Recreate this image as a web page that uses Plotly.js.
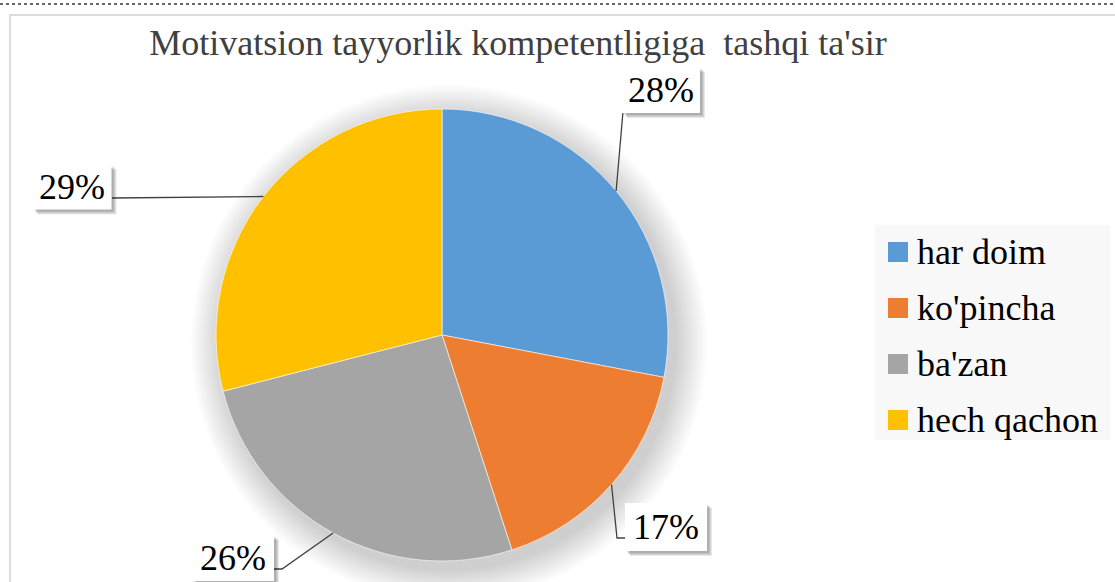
<!DOCTYPE html>
<html><head><meta charset="utf-8">
<script src="https://cdn.plot.ly/plotly-3.0.1.min.js"></script>
<style>html,body{margin:0;padding:0;background:#fff;} #chart{width:1115px;height:582px;}</style>
</head><body><div id="chart"></div>
<script>
// ---- data ----
const categories = ["har doim", "ko'pincha", "ba'zan", "hech qachon"];
const values = [28, 17, 26, 29];
const percentLabels = ["28%", "17%", "26%", "29%"];
const colors = ["#5B9BD5", "#ED7D31", "#A5A5A5", "#FFC000"];
const titleText = "Motivatsion tayyorlik kompetentligiga  tashqi ta'sir";

// ---- layout helpers (pixels) ----
const W = 1115, H = 582;
const PCX = 442, PCY = 335, PR = 226;
const px = x => x / W, py = y => 1 - y / H;
const SERIF = "'Times New Roman', 'Liberation Serif', 'DejaVu Serif', serif";

// label boxes: centre, size, leader points (after the slice anchor)
const labelBoxes = [
  {x: 661, y: 90, w: 78, h: 46, pts: [[624, 100]]},
  {x: 666, y: 527, w: 82, h: 48, pts: [[617, 538], [630, 538]]},
  {x: 233, y: 558, w: 82, h: 46, pts: [[282, 569], [272, 569]]},
  {x: 72, y: 187, w: 79, h: 45, pts: [[112, 198]]}
];

const shapes = [];
const annotations = [];

// frame
shapes.push({type: 'line', xref: 'paper', yref: 'paper', x0: 0, x1: 1, y0: py(4), y1: py(4),
  line: {color: '#666', width: 2, dash: 'dot'}});
shapes.push({type: 'rect', xref: 'paper', yref: 'paper', x0: px(10), x1: px(1140), y0: py(15), y1: py(620),
  line: {color: '#dcdcdc', width: 2}, fillcolor: 'rgba(0,0,0,0)'});

// soft pie shadow
for (let k = 1; k <= 16; k++) {
  const r = PR + k * 2.0;
  const sx = PCX + 7, sy = PCY + 8;
  shapes.push({type: 'circle', layer: 'below', xref: 'paper', yref: 'paper',
    x0: px(sx - r), x1: px(sx + r), y0: py(sy + r), y1: py(sy - r),
    line: {width: 0}, fillcolor: 'rgba(0,0,0,0.011)'});
}

// leader lines + label boxes computed from data
const total = values.reduce((a, b) => a + b, 0);
let cum = 0;
values.forEach((v, i) => {
  const ang = 2 * Math.PI * (cum + v / 2) / total;
  cum += v;
  const ax = PCX + PR * Math.sin(ang), ay = PCY - PR * Math.cos(ang);
  const lb = labelBoxes[i];
  let d = `M${px(ax)},${py(ay)}`;
  lb.pts.forEach(p => { d += ` L${px(p[0])},${py(p[1])}`; });
  shapes.push({type: 'path', xref: 'paper', yref: 'paper', path: d, layer: 'above',
    line: {color: '#404040', width: 1.3}});
  // box shadow
  for (let s = 1; s <= 4; s++) {
    shapes.push({type: 'rect', xref: 'paper', yref: 'paper', layer: 'above',
      x0: px(lb.x - lb.w / 2 + s + 1), x1: px(lb.x + lb.w / 2 + s + 1),
      y0: py(lb.y + lb.h / 2 + s + 1), y1: py(lb.y - lb.h / 2 + s + 1),
      line: {width: 0}, fillcolor: 'rgba(0,0,0,0.09)'});
  }
  shapes.push({type: 'rect', xref: 'paper', yref: 'paper', layer: 'above',
    x0: px(lb.x - lb.w / 2), x1: px(lb.x + lb.w / 2),
    y0: py(lb.y + lb.h / 2), y1: py(lb.y - lb.h / 2),
    line: {width: 0}, fillcolor: '#ffffff'});
  annotations.push({xref: 'paper', yref: 'paper', x: px(lb.x), y: py(lb.y),
    text: percentLabels[i], showarrow: false, xanchor: 'center', yanchor: 'middle',
    font: {family: SERIF, size: 36, color: '#000'}});
});

// legend (manual, to match square size and spacing)
shapes.push({type: 'rect', xref: 'paper', yref: 'paper', x0: px(875), x1: px(1110), y0: py(440), y1: py(225),
  line: {width: 0}, fillcolor: '#f8f8f8'});
categories.forEach((c, i) => {
  const yc = 252 + i * 56;
  shapes.push({type: 'rect', xref: 'paper', yref: 'paper', x0: px(888), x1: px(908), y0: py(yc + 10), y1: py(yc - 10),
    line: {width: 0}, fillcolor: colors[i]});
  annotations.push({xref: 'paper', yref: 'paper', x: px(915), y: py(yc), text: c, showarrow: false,
    xanchor: 'left', yanchor: 'middle', font: {family: SERIF, size: 36, color: '#000'}});
});

const data = [{
  type: 'pie', labels: categories, values: values, sort: false, direction: 'clockwise', rotation: 0,
  marker: {colors: colors, line: {color: '#ffffff', width: 0.6}},
  textinfo: 'none', hoverinfo: 'label+percent', showlegend: false,
  domain: {x: [px(PCX - PR), px(PCX + PR)], y: [py(PCY + PR), py(PCY - PR)]}
}];

const layout = {
  width: W, height: H, margin: {l: 0, r: 0, t: 0, b: 0},
  paper_bgcolor: '#ffffff', showlegend: false,
  font: {family: SERIF},
  title: {text: titleText, x: px(518), xref: 'paper', xanchor: 'center', y: 1 - 42 / H, yref: 'container', yanchor: 'middle',
    font: {family: SERIF, size: 36, color: '#404040'}},
  shapes: shapes, annotations: annotations
};

Plotly.newPlot('chart', data, layout, {displayModeBar: false, staticPlot: true});
</script>
</body></html>
